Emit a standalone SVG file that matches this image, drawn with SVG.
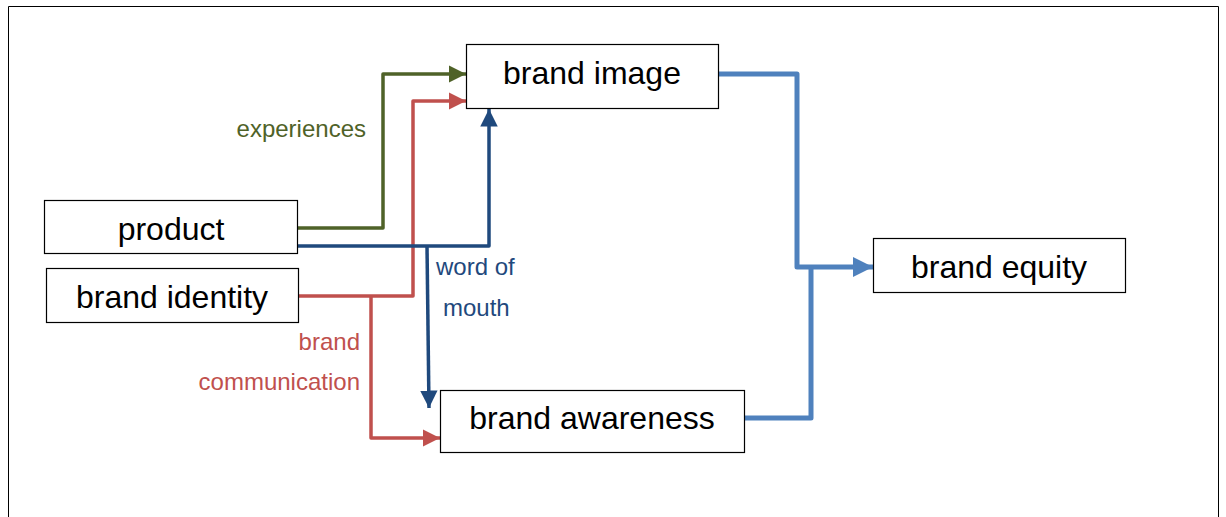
<svg xmlns="http://www.w3.org/2000/svg" width="1226" height="517" viewBox="0 0 1226 517">
  <style>
    .box { fill: #ffffff; stroke: #000000; stroke-width: 1.2; }
    .label { font-family: "Liberation Sans", Arial, sans-serif; font-size: 32px; fill: #000000; text-anchor: middle; }
    .note { font-family: "Liberation Sans", Arial, sans-serif; font-size: 24px; }
    .line { fill: none; stroke-linejoin: round; }
  </style>
  <defs>
    <marker id="arrGreen" viewBox="0 0 10 10" refX="10" refY="5" markerWidth="5" markerHeight="5" markerUnits="strokeWidth" orient="auto">
      <path d="M0,0 L10,5 L0,10 z" fill="#4F6228"/>
    </marker>
    <marker id="arrRed" viewBox="0 0 10 10" refX="10" refY="5" markerWidth="5" markerHeight="5" markerUnits="strokeWidth" orient="auto">
      <path d="M0,0 L10,5 L0,10 z" fill="#C0504D"/>
    </marker>
    <marker id="arrNavy" viewBox="0 0 10 10" refX="10" refY="5" markerWidth="5" markerHeight="5" markerUnits="strokeWidth" orient="auto">
      <path d="M0,0 L10,5 L0,10 z" fill="#1F497D"/>
    </marker>
    <marker id="arrBlue" viewBox="0 0 10 10" refX="10" refY="5" markerWidth="4" markerHeight="4" markerUnits="strokeWidth" orient="auto">
      <path d="M0,0 L10,5 L0,10 z" fill="#4F81BD"/>
    </marker>
  </defs>

  <rect width="1226" height="517" fill="#ffffff"/>
  <!-- outer frame -->
  <path d="M8.5,517 V6.5 H1218.5 V517" fill="none" stroke="#000000" stroke-width="1"/>

  <g id="connectors">
    <!-- experiences -->
    <path class="line" d="M298,228 H383 V74 H466" stroke="#4F6228" stroke-width="3.5" marker-end="url(#arrGreen)"/>
    <!-- brand communication -->
    <path class="line" d="M298,296 H413 V101 H466" stroke="#C0504D" stroke-width="3.5" marker-end="url(#arrRed)"/>
    <path class="line" d="M371,296 V438 H440" stroke="#C0504D" stroke-width="3.5" marker-end="url(#arrRed)"/>
    <!-- word of mouth -->
    <path class="line" d="M298,246 H489 V109" stroke="#1F497D" stroke-width="3.5" marker-end="url(#arrNavy)"/>
    <path class="line" d="M427,246 L429,408" stroke="#1F497D" stroke-width="3.5" marker-end="url(#arrNavy)"/>
    <!-- to brand equity -->
    <path class="line" d="M718,74 H797 V267 H873" stroke="#4F81BD" stroke-width="5" marker-end="url(#arrBlue)"/>
    <path class="line" d="M744,418 H811 V267" stroke="#4F81BD" stroke-width="5"/>
  </g>

  <g id="labels">
    <text class="note" x="366" y="137" text-anchor="end" fill="#4F6228">experiences</text>
    <text class="note" x="436" y="275" fill="#1F497D">word of</text>
    <text class="note" x="443" y="316" fill="#1F497D">mouth</text>
    <text class="note" x="360" y="350" text-anchor="end" fill="#C0504D">brand</text>
    <text class="note" x="360" y="390" text-anchor="end" fill="#C0504D">communication</text>
  </g>

  <g id="product">
    <rect class="box" x="44.5" y="200.5" width="253" height="53"/>
    <text class="label" x="171" y="240">product</text>
  </g>
  <g id="brand-identity">
    <rect class="box" x="46.5" y="268.5" width="252" height="54"/>
    <text class="label" x="172" y="308">brand identity</text>
  </g>
  <g id="brand-image">
    <rect class="box" x="466.5" y="44.5" width="252" height="64"/>
    <text class="label" x="592" y="84">brand image</text>
  </g>
  <g id="brand-awareness">
    <rect class="box" x="440.5" y="390.5" width="304" height="62"/>
    <text class="label" x="592" y="429">brand awareness</text>
  </g>
  <g id="brand-equity">
    <rect class="box" x="873.5" y="238.5" width="252" height="54"/>
    <text class="label" x="999" y="278">brand equity</text>
  </g>
</svg>
